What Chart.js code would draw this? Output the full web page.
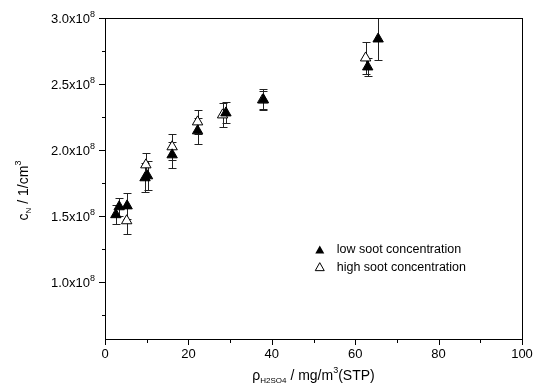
<!DOCTYPE html>
<html>
<head>
<meta charset="utf-8">
<script src="https://cdn.jsdelivr.net/npm/chart.js@4.4.0/dist/chart.umd.min.js"></script>
<style>
  html, body { margin: 0; padding: 0; background: #fff; }
  #wrap { width: 541px; height: 387px; }
</style>
</head>
<body>
<div id="wrap"><canvas id="c" width="541" height="387"></canvas></div>
<script>
// values in units of 1e8 per cm^3
const lowX = [2.6, 3.4, 5.3, 9.6, 10.2, 16.1, 22.2, 29.0, 38.0, 63.0, 65.5];
const lowY = [1.508, 1.568, 1.575, 1.788, 1.803, 1.962, 2.144, 2.280, 2.379, 2.629, 2.841];
const lowErr = [0.07, 0.07, 0.10, 0.11, 0.11, 0.10, 0.10, 0.08, 0.07, 0.07, 0.16];

const highX = [5.2, 9.8, 16.1, 22.2, 28.2, 37.8, 62.5];
const highY = [1.462, 1.886, 2.023, 2.212, 2.265, 2.379, 2.697];
const highErr = [0.10, 0.09, 0.10, 0.09, 0.09, 0.08, 0.12];

const xTicks = [0, 20, 40, 60, 80, 100];
const yTicks = [1.0, 1.5, 2.0, 2.5, 3.0];
const yLabels = ['1.0', '1.5', '2.0', '2.5', '3.0'];

const FONT = '"Liberation Sans", Arial, sans-serif';

function pts(xs, ys, es) {
  return xs.map((x, i) => ({ x: x, y: ys[i], e: es[i] }));
}

const errorBars = {
  id: 'errorBars',
  beforeDatasetsDraw(chart) {
    const c = chart.ctx, xs = chart.scales.x, ys = chart.scales.y;
    c.save();
    c.strokeStyle = '#222';
    c.lineWidth = 1;
    chart.data.datasets.forEach(ds => {
      ds.data.forEach(p => {
        const px = Math.round(xs.getPixelForValue(p.x)) + 0.5;
        const top = Math.round(ys.getPixelForValue(p.y + p.e)) + 0.5;
        const bot = Math.round(ys.getPixelForValue(p.y - p.e)) + 0.5;
        c.beginPath();
        c.moveTo(px, top); c.lineTo(px, bot);
        c.moveTo(px - 4, top); c.lineTo(px + 4, top);
        c.moveTo(px - 4, bot); c.lineTo(px + 4, bot);
        c.stroke();
      });
    });
    c.restore();
  }
};

const frame = {
  id: 'frame',
  afterDraw(chart) {
    const c = chart.ctx, a = chart.chartArea, xs = chart.scales.x, ys = chart.scales.y;
    c.save();
    c.strokeStyle = '#000';
    c.lineWidth = 1;
    c.strokeRect(Math.round(a.left) + 0.5, Math.round(a.top) + 0.5,
      Math.round(a.right - a.left), Math.round(a.bottom - a.top));

    // x ticks (major + minor)
    c.beginPath();
    for (let v = 0; v <= 100; v += 10) {
      const px = Math.round(xs.getPixelForValue(v)) + 0.5;
      const len = v % 20 === 0 ? 6 : 4;
      c.moveTo(px, a.bottom); c.lineTo(px, a.bottom + len);
    }
    // y ticks
    for (let v = 0.75; v <= 3.0001; v += 0.25) {
      const py = Math.round(ys.getPixelForValue(v)) + 0.5;
      const major = Math.abs(v * 2 - Math.round(v * 2)) < 1e-6;
      c.moveTo(a.left, py); c.lineTo(a.left - (major ? 6 : 3), py);
    }
    c.stroke();

    c.fillStyle = '#000';
    c.font = '13px ' + FONT;
    c.textAlign = 'center';
    c.textBaseline = 'alphabetic';
    xTicks.forEach(v => {
      c.fillText(String(v), xs.getPixelForValue(v), a.bottom + 19);
    });

    // y tick labels with superscript exponent
    yTicks.forEach((v, i) => {
      const py = ys.getPixelForValue(v);
      c.font = '9px ' + FONT;
      c.textAlign = 'left';
      c.fillText('8', a.left - 15, py - 1);
      c.font = '13px ' + FONT;
      c.textAlign = 'right';
      c.fillText(yLabels[i] + 'x10', a.left - 15, py + 5);
    });

    // x title: rho_H2SO4 / mg/m^3(STP)
    const cx = (a.left + a.right) / 2;
    const ty = a.bottom + 41;
    const parts = [
      { t: 'ρ', f: '14px', dy: 0 },
      { t: 'H2SO4', f: '8px', dy: 3 },
      { t: ' / mg/m', f: '14px', dy: 0 },
      { t: '3', f: '9px', dy: -7 },
      { t: '(STP)', f: '14px', dy: 0 }
    ];
    let w = 0;
    parts.forEach(p => { c.font = p.f + ' ' + FONT; p.w = c.measureText(p.t).width; w += p.w; });
    let x = cx - w / 2;
    c.textAlign = 'left';
    parts.forEach(p => { c.font = p.f + ' ' + FONT; c.fillText(p.t, x, ty + p.dy); x += p.w; });

    // y title: c_N / 1/cm^3
    c.translate(28, (a.top + a.bottom) / 2 + 12);
    c.rotate(-Math.PI / 2);
    const yparts = [
      { t: 'c', f: '14px', dy: 0 },
      { t: 'N', f: '8px', dy: 3 },
      { t: ' / 1/cm', f: '14px', dy: 0 },
      { t: '3', f: '9px', dy: -7 }
    ];
    w = 0;
    yparts.forEach(p => { c.font = p.f + ' ' + FONT; p.w = c.measureText(p.t).width; w += p.w; });
    x = -w / 2;
    yparts.forEach(p => { c.font = p.f + ' ' + FONT; c.fillText(p.t, x, p.dy); x += p.w; });
    c.restore();

    // legend
    c.save();
    const lx = xs.getPixelForValue(51.5), ly1 = ys.getPixelForValue(1.24), ly2 = ys.getPixelForValue(1.11);
    const tri = (px, py, fill) => {
      c.beginPath();
      c.moveTo(px, py - 4.5); c.lineTo(px + 4.5, py + 3.5); c.lineTo(px - 4.5, py + 3.5); c.closePath();
      if (fill) { c.fillStyle = '#000'; c.fill(); } else { c.strokeStyle = '#000'; c.lineWidth = 1; c.stroke(); }
    };
    tri(lx, ly1, true);
    tri(lx, ly2, false);
    c.fillStyle = '#000';
    c.font = '12.5px ' + FONT;
    c.textAlign = 'left';
    c.textBaseline = 'middle';
    c.fillText(chart.data.datasets[0].label, lx + 17, ly1);
    c.fillText(chart.data.datasets[1].label, lx + 17, ly2);
    c.restore();
  }
};

new Chart(document.getElementById('c'), {
  type: 'scatter',
  data: {
    datasets: [
      {
        label: 'low soot concentration',
        data: pts(lowX, lowY, lowErr),
        pointStyle: 'triangle',
        pointRadius: 6,
        backgroundColor: '#000',
        borderColor: '#000',
        borderWidth: 1
      },
      {
        label: 'high soot concentration',
        data: pts(highX, highY, highErr),
        pointStyle: 'triangle',
        pointRadius: 6,
        backgroundColor: '#fff',
        borderColor: '#000',
        borderWidth: 1
      }
    ]
  },
  options: {
    responsive: false,
    animation: false,
    layout: { padding: { left: 105, right: 19, top: 18, bottom: 48 } },
    plugins: { legend: { display: false }, tooltip: { enabled: false } },
    scales: {
      x: { type: 'linear', min: 0, max: 100, display: false },
      y: { type: 'linear', min: 0.565, max: 3.0, display: false }
    }
  },
  plugins: [errorBars, frame]
});
</script>
</body>
</html>
